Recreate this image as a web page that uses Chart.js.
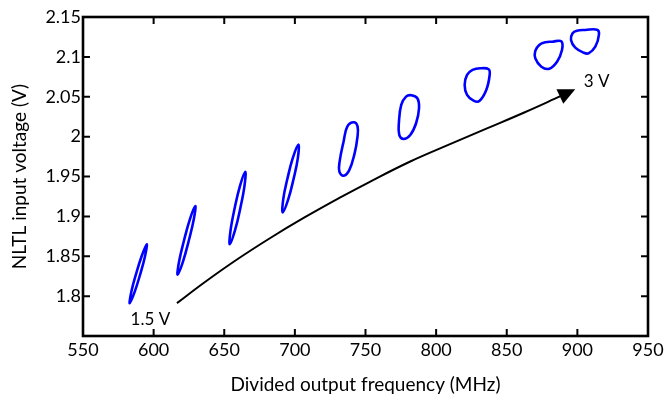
<!DOCTYPE html>
<html><head><meta charset="utf-8">
<script src="https://cdn.jsdelivr.net/npm/chart.js@4.4.0/dist/chart.umd.min.js"></script>
<style>html,body{margin:0;padding:0;background:#fff;}#wrap{width:667px;height:401px;}</style>
</head><body><div id="wrap"><canvas id="c" width="667" height="401"></canvas></div>
<script>
// Tick values
const xTicks = [550, 600, 650, 700, 750, 800, 850, 900, 950];
const yTicks = [1.8, 1.85, 1.9, 1.95, 2, 2.05, 2.1, 2.15];

// Hysteresis loops (closed curves): [frequency MHz, NLTL input voltage V]
const loop1 = [[590.6,1.828],[593.9,1.850],[595.1,1.865],[591.5,1.850],[587.6,1.828],[584.3,1.806],[583.1,1.791],[586.7,1.806]];
const loop2 = [[624.95,1.870],[628.4,1.896],[629.5,1.913],[625.6,1.896],[621.55,1.870],[618.1,1.844],[617.0,1.827],[620.9,1.844]];
const loop3 = [[661.4,1.9105],[664.3,1.938],[664.9,1.956],[661.1,1.938],[657.4,1.9105],[654.5,1.883],[653.9,1.865],[657.7,1.883]];
const loop4 = [[699.15,1.9475],[702.1,1.973],[702.5,1.990],[698.5,1.973],[694.75,1.9475],[691.8,1.922],[691.4,1.905],[695.4,1.922]];
const loop5 = [[744.2,1.998],[742.3,1.979],[738.5,1.958],[734.5,1.951],[731.5,1.956],[731.7,1.969],[734.5,1.994],[737.1,2.0125],[741.6,2.018],[744.4,2.0125]];
const loop6 = [[787.9,2.0356],[785.8,2.0168],[781.7,2.0021],[777.0,1.9971],[773.9,2.0021],[773.7,2.0188],[775.3,2.0397],[778.7,2.0501],[782.4,2.0519],[786.7,2.0481]];
const loop7 = [[837.9,2.0773],[835.5,2.0585],[830.6,2.0447],[826.5,2.0451],[821.9,2.0523],[820.2,2.0648],[821.9,2.0773],[825.8,2.0836],[831.3,2.0857],[837.2,2.0845]];
const loop8 = [[889.1,2.1086],[885.6,2.094],[880.1,2.0852],[874.5,2.0877],[870.2,2.0982],[870.2,2.1074],[873.0,2.1149],[877.3,2.1183],[882.0,2.119],[888.6,2.1195]];
const loop9 = [[915.3,2.1283],[912.7,2.1128],[907.9,2.1045],[904.4,2.1053],[898.5,2.1115],[895.5,2.1212],[896.6,2.1296],[899.7,2.1328],[905.6,2.1337],[913.9,2.1341]];

// Trend arrow (1.5 V -> 3 V)
const arrowPath = [[616.5,1.7912],[635.4,1.8165],[659.0,1.8459],[682.6,1.8729],[706.2,1.898],[732.2,1.9238],[753.4,1.9437],[781.7,1.9688],[808.6,1.9896],[836.0,2.0103],[862.4,2.0303],[888.4,2.051]];
const arrowTip = [898.5, 2.0594];
const annotations = [['1.5 V', 597.7, 1.7703], ['3 V', 913.7, 2.0692]];

const FONT = 'Lato, "Open Sans", sans-serif';
const toPts = a => a.map(p => ({x: p[0], y: p[1]}));
const loops = [loop1, loop2, loop3, loop4, loop5, loop6, loop7, loop8, loop9];

const datasets = loops.map(l => ({
  data: toPts(l), borderColor: '#0000ff', borderWidth: 2.6, pointRadius: 0,
  showLine: true, tension: 0.4, fill: false
}));
datasets.push({data: toPts(arrowPath), borderColor: '#000', borderWidth: 2, pointRadius: 0, showLine: true, tension: 0.4, fill: false});

const closeLoopsPlugin = {
  id: 'closeLoops',
  afterDatasetsUpdate(chart) {
    loops.forEach((l, i) => {
      const el = chart.getDatasetMeta(i).dataset;
      if (!el) return;
      el._loop = true;
      el._fullLoop = true;
      el._pointsUpdated = false;
      el._segments = undefined;
      el._path = undefined;
      el.updateControlPoints(chart.chartArea, 'x');
    });
  }
};

const framePlugin = {
  id: 'frame',
  afterDraw(chart) {
    const {ctx, chartArea: a, scales: {x, y}} = chart;
    ctx.save();
    ctx.strokeStyle = '#000';
    ctx.lineWidth = 2;
    ctx.beginPath();
    xTicks.forEach(v => {
      const px = x.getPixelForValue(v);
      if (px <= a.left + 1 || px >= a.right - 1) return;
      ctx.moveTo(px, a.bottom); ctx.lineTo(px, a.bottom - 7);
      ctx.moveTo(px, a.top); ctx.lineTo(px, a.top + 7);
    });
    yTicks.forEach(v => {
      const py = y.getPixelForValue(v);
      if (py <= a.top + 1 || py >= a.bottom - 1) return;
      ctx.moveTo(a.left, py); ctx.lineTo(a.left + 7, py);
      ctx.moveTo(a.right, py); ctx.lineTo(a.right - 7, py);
    });
    ctx.stroke();
    ctx.lineWidth = 2.6;
    ctx.strokeRect(a.left, a.top, a.right - a.left, a.bottom - a.top);

    // arrow head
    const last = arrowPath[arrowPath.length - 1];
    const bx = x.getPixelForValue(last[0]), by = y.getPixelForValue(last[1]);
    const tx = x.getPixelForValue(arrowTip[0]), ty = y.getPixelForValue(arrowTip[1]);
    let dx = tx - bx, dy = ty - by; const len = Math.hypot(dx, dy); dx /= len; dy /= len;
    const L = 17, W = 8;
    ctx.fillStyle = '#000';
    ctx.beginPath();
    ctx.moveTo(tx, ty);
    ctx.lineTo(tx - L * dx - W * dy, ty - L * dy + W * dx);
    ctx.lineTo(tx - L * dx + W * dy, ty - L * dy - W * dx);
    ctx.closePath();
    ctx.fill();

    ctx.font = '17px ' + FONT;
    ctx.textAlign = 'center';
    ctx.textBaseline = 'middle';
    annotations.forEach(([t, fx, fy]) => ctx.fillText(t, x.getPixelForValue(fx), y.getPixelForValue(fy)));
    ctx.restore();
  }
};

Chart.defaults.font.family = FONT;
Chart.defaults.color = '#000';

new Chart(document.getElementById('c'), {
  type: 'scatter',
  data: {datasets},
  options: {
    responsive: false, animation: false, events: [],
    layout: {padding: {top: 17, right: 19, left: 0, bottom: 0}},
    plugins: {legend: {display: false}, tooltip: {enabled: false}},
    scales: {
      x: {
        type: 'linear', min: 550, max: 950,
        afterBuildTicks: s => { s.ticks = xTicks.map(v => ({value: v})); },
        afterFit: s => { s.height = 65; },
        ticks: {font: {size: 18}, padding: 3, maxRotation: 0, autoSkip: false, color: '#000'},
        grid: {display: false, drawTicks: false},
        border: {display: false},
        title: {display: true, text: 'Divided output frequency (MHz)', font: {size: 19}, color: '#000', padding: {top: 0, bottom: 4.6}}
      },
      y: {
        type: 'linear', min: 1.75, max: 2.15,
        afterBuildTicks: s => { s.ticks = yTicks.map(v => ({value: v})); },
        afterFit: s => { s.width = 83; },
        ticks: {font: {size: 18}, padding: 2, color: '#000', callback: v => String(Number(v.toFixed(2)))},
        grid: {display: false, drawTicks: false},
        border: {display: false},
        title: {display: true, text: 'NLTL input voltage (V)', font: {size: 19}, color: '#000', padding: {top: 8.6, bottom: 0}}
      }
    }
  },
  plugins: [closeLoopsPlugin, framePlugin]
});
</script></body></html>
